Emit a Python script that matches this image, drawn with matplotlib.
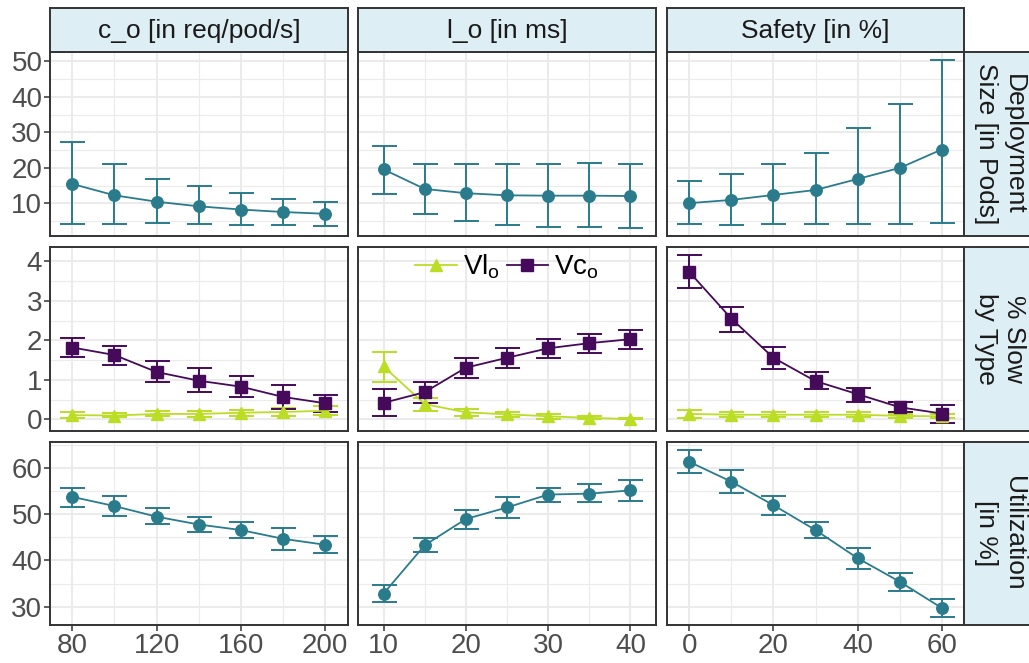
import matplotlib
matplotlib.use("Agg")
import matplotlib.pyplot as plt
import numpy as np

plt.rcParams['font.family'] = ['Liberation Sans', 'DejaVu Sans']

# ---------------- data ----------------
x_co = [80, 100, 120, 140, 160, 180, 200]
x_lo = [10, 15, 20, 25, 30, 35, 40]
x_safety = [0, 10, 20, 30, 40, 50, 60]

col_titles = ["c_o [in req/pod/s]", "l_o [in ms]", "Safety [in %]"]
row_titles = ["Deployment\nSize [in Pods]", "% Slow\nby Type", "Utilization\n[in %]"]

# Row 1: deployment size (mean, lower, upper)
dep_co = [15.5, 12.3, 10.5, 9.2, 8.3, 7.6, 7.1]
dep_co_lo = [4.1, 4.1, 4.4, 4.1, 3.9, 3.9, 3.8]
dep_co_hi = [27.3, 21.2, 17.0, 14.8, 12.9, 11.4, 10.4]
dep_lo = [19.6, 14.1, 12.9, 12.3, 12.2, 12.2, 12.1]
dep_lo_lo = [12.7, 7.1, 5.0, 4.0, 3.5, 3.35, 3.2]
dep_lo_hi = [26.1, 21.05, 21.05, 21.05, 21.2, 21.4, 21.2]
dep_sf = [10.1, 11.0, 12.4, 13.8, 16.9, 20.0, 25.2]
dep_sf_lo = [4.1, 3.9, 4.1, 4.1, 4.1, 4.1, 4.6]
dep_sf_hi = [16.4, 18.4, 21.2, 24.2, 31.3, 38.1, 50.3]

# Row 2: % slow by type (Vc_o)
vc_co = [1.82, 1.63, 1.20, 0.98, 0.83, 0.57, 0.41]
vc_co_lo = [1.57, 1.39, 0.94, 0.70, 0.56, 0.26, 0.18]
vc_co_hi = [2.07, 1.87, 1.47, 1.29, 1.10, 0.88, 0.62]
vc_lo = [0.42, 0.69, 1.31, 1.56, 1.80, 1.93, 2.03]
vc_lo_lo = [0.10, 0.42, 1.05, 1.31, 1.56, 1.68, 1.78]
vc_lo_hi = [0.76, 0.94, 1.56, 1.82, 2.03, 2.17, 2.26]
vc_sf = [3.73, 2.55, 1.56, 0.97, 0.64, 0.31, 0.15]
vc_sf_lo = [3.32, 2.21, 1.27, 0.77, 0.45, 0.18, -0.08]
vc_sf_hi = [4.15, 2.85, 1.84, 1.19, 0.80, 0.44, 0.37]

# Row 2: % slow by type (Vl_o)
vl_co = [0.11, 0.10, 0.14, 0.14, 0.17, 0.19, 0.22]
vl_co_lo = [0.04, 0.05, 0.08, 0.07, 0.09, 0.10, 0.11]
vl_co_hi = [0.18, 0.17, 0.21, 0.21, 0.25, 0.30, 0.34]
vl_lo = [1.34, 0.39, 0.18, 0.13, 0.08, 0.04, 0.01]
vl_lo_lo = [0.96, 0.22, 0.10, 0.06, 0.01, 0.00, 0.00]
vl_lo_hi = [1.71, 0.55, 0.26, 0.19, 0.13, 0.08, 0.03]
vl_sf = [0.14, 0.12, 0.12, 0.12, 0.12, 0.09, 0.08]
vl_sf_lo = [0.04, 0.06, 0.06, 0.06, 0.05, 0.04, 0.03]
vl_sf_hi = [0.23, 0.18, 0.18, 0.18, 0.19, 0.14, 0.13]

# Row 3: utilization
ut_co = [53.8, 51.8, 49.5, 47.8, 46.6, 44.7, 43.4]
ut_co_lo = [51.7, 49.7, 47.9, 46.1, 44.9, 42.3, 41.6]
ut_co_hi = [55.8, 53.9, 51.3, 49.4, 48.4, 47.1, 45.3]
ut_lo = [32.8, 43.3, 49.0, 51.5, 54.3, 54.5, 55.2]
ut_lo_lo = [30.9, 41.8, 46.9, 49.3, 52.7, 52.6, 53.0]
ut_lo_hi = [34.7, 44.8, 51.0, 53.7, 55.8, 56.5, 57.4]
ut_sf = [61.4, 57.1, 52.0, 46.6, 40.5, 35.4, 29.7]
ut_sf_lo = [59.0, 54.6, 49.9, 44.9, 38.2, 33.4, 27.8]
ut_sf_hi = [63.9, 59.6, 54.0, 48.3, 42.7, 37.3, 31.7]

x_major = [[80, 120, 160, 200], [10, 20, 30, 40], [0, 20, 40, 60]]
x_minor = [[100, 140, 180], [15, 25, 35], [10, 30, 50]]
y_major = [[10, 20, 30, 40, 50], [0, 1, 2, 3, 4], [30, 40, 50, 60]]
y_minor = [[5, 15, 25, 35, 45], [0.5, 1.5, 2.5, 3.5], [25, 35, 45, 55, 65]]

# ---------------- styling ----------------
TEAL = '#2A7B8C'
PURPLE = '#450A5A'
LIME = '#BCDD26'
STRIP_BG = '#DEEEF5'
BORDER = '#333333'
GRID = '#EBEBEB'
TICKC = '#4D4D4D'

W, H = 1029, 663
fig = plt.figure(figsize=(W / 100, H / 100), dpi=100)

def px_axes(x0, y0, x1, y1, **kw):
    return fig.add_axes([x0 / W, 1 - y1 / H, (x1 - x0) / W, (y1 - y0) / H], **kw)

col_x = [(50, 348), (358, 656), (667, 964)]
row_y = [(52, 236), (247, 431), (442, 625)]
# x-limits include room for the error-bar caps (as in the original ggplot)
col_xlim = [(69.4, 210.8), (6.9, 43.1), (-5.3, 65.3)]

xs_list = [x_co, x_lo, x_safety]

def expand(lo, hi, f=0.05):
    s = hi - lo
    return lo - f * s, hi + f * s

def draw_series(ax, x, y, lo, hi, color, marker, ms):
    yerr = [np.array(y) - np.array(lo), np.array(hi) - np.array(y)]
    ax.errorbar(x, y, yerr=yerr, color=color, ecolor=color, elinewidth=1.4,
                capsize=9, capthick=1.4, fmt='none', zorder=3)
    line, = ax.plot(x, y, color=color, lw=1.3, marker=marker, ms=ms, zorder=4)
    return line

row_data = [
    [[(dep_co, dep_co_lo, dep_co_hi)], [(dep_lo, dep_lo_lo, dep_lo_hi)], [(dep_sf, dep_sf_lo, dep_sf_hi)]],
    [[(vl_co, vl_co_lo, vl_co_hi), (vc_co, vc_co_lo, vc_co_hi)],
     [(vl_lo, vl_lo_lo, vl_lo_hi), (vc_lo, vc_lo_lo, vc_lo_hi)],
     [(vl_sf, vl_sf_lo, vl_sf_hi), (vc_sf, vc_sf_lo, vc_sf_hi)]],
    [[(ut_co, ut_co_lo, ut_co_hi)], [(ut_lo, ut_lo_lo, ut_lo_hi)], [(ut_sf, ut_sf_lo, ut_sf_hi)]],
]

# row y-limits shared across columns (ggplot-style expansion)
row_ylim = []
for r in range(3):
    allv = []
    for c in range(3):
        for (y, lo, hi) in row_data[r][c]:
            allv += list(lo) + list(hi)
    row_ylim.append(expand(min(allv), max(allv)))

for r in range(3):
    for c in range(3):
        ax = px_axes(col_x[c][0], row_y[r][0], col_x[c][1], row_y[r][1])
        ax.set_facecolor('white')
        x = xs_list[c]
        ax.set_xlim(*col_xlim[c])
        ax.set_ylim(*row_ylim[r])
        for v in x_minor[c]:
            ax.axvline(v, color=GRID, lw=0.8, zorder=0)
        for v in x_major[c]:
            ax.axvline(v, color=GRID, lw=1.5, zorder=0)
        for v in y_minor[r]:
            ax.axhline(v, color=GRID, lw=0.8, zorder=0)
        for v in y_major[r]:
            ax.axhline(v, color=GRID, lw=1.5, zorder=0)
        if r == 1:
            (yl, lol, hil), (yc, loc, hic) = row_data[r][c]
            h1 = draw_series(ax, x, yl, lol, hil, LIME, '^', 8.5)
            h2 = draw_series(ax, x, yc, loc, hic, PURPLE, 's', 8)
            if c == 1:
                ax.legend([h1, h2], ['Vl$_\\mathregular{o}$', 'Vc$_\\mathregular{o}$'],
                          loc='upper center', bbox_to_anchor=(0.5, 1.06), ncol=2,
                          frameon=False, fontsize=20, handlelength=1.5,
                          handletextpad=0.2, columnspacing=0.25, borderaxespad=0.2)
        else:
            (y, lo, hi), = row_data[r][c]
            draw_series(ax, x, y, lo, hi, TEAL, 'o', 8.3)
        ax.set_xticks(x_major[c])
        ax.set_yticks(y_major[r])
        ax.tick_params(axis='both', colors=BORDER, labelcolor=TICKC, labelsize=20,
                       length=4, width=1.1, pad=1.5)
        if c != 0:
            ax.tick_params(axis='y', left=False, labelleft=False)
        if r != 2:
            ax.tick_params(axis='x', bottom=False, labelbottom=False)
        for s in ax.spines.values():
            s.set_color(BORDER)
            s.set_linewidth(1.4)
            s.set_zorder(6)

# top strips
for c in range(3):
    sax = px_axes(col_x[c][0], 8, col_x[c][1], 52)
    sax.set_facecolor(STRIP_BG)
    sax.set_xticks([]); sax.set_yticks([])
    for s in sax.spines.values():
        s.set_color(BORDER); s.set_linewidth(1.4)
    sax.text(0.5, 0.47, col_titles[c], ha='center', va='center', fontsize=19,
             color='#1A1A1A', transform=sax.transAxes)

# right strips
for r in range(3):
    sax = px_axes(964, row_y[r][0], 1036, row_y[r][1])
    sax.set_facecolor(STRIP_BG)
    sax.set_xticks([]); sax.set_yticks([])
    for s in sax.spines.values():
        s.set_color(BORDER); s.set_linewidth(1.4)
    sax.text(0.5, 0.5, row_titles[r], ha='center', va='center', fontsize=19,
             color='#1A1A1A', rotation=270, multialignment='center',
             linespacing=1.22, transform=sax.transAxes)

fig.savefig('out.png', dpi=100)
